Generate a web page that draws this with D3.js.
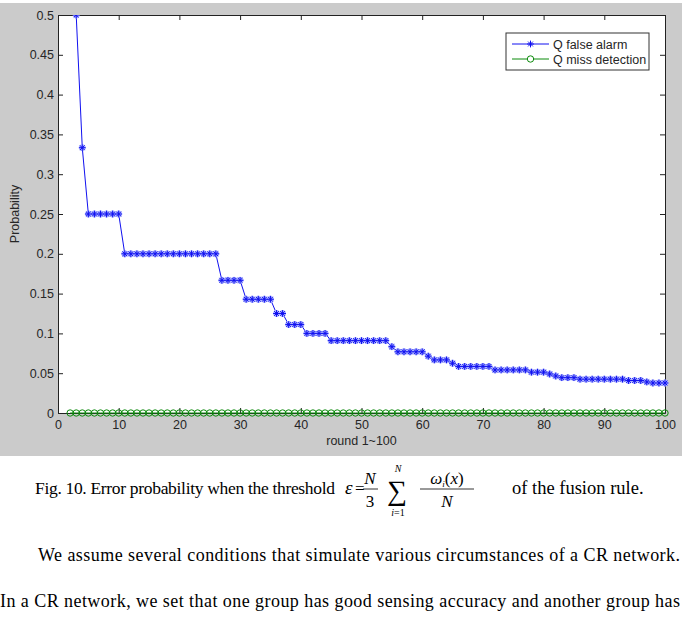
<!DOCTYPE html>
<html>
<head>
<meta charset="utf-8">
<script src="https://cdn.jsdelivr.net/npm/d3@7/dist/d3.min.js"></script>
<style>
  body { margin: 0; background: #fff; }
  svg { display: block; }
</style>
</head>
<body>
<svg id="chart" width="682" height="629"></svg>
<script>
// rounds 2..100 (round 1 has no value)
const rounds = d3.range(2, 101);

// Q false alarm, one value per round 2..100
const falseAlarm = [
  1, 0.5, 0.3333,
  0.25, 0.25, 0.25, 0.25, 0.25, 0.25,
  0.2, 0.2, 0.2, 0.2, 0.2, 0.2, 0.2, 0.2, 0.2, 0.2, 0.2, 0.2, 0.2, 0.2, 0.2, 0.2,
  0.1667, 0.1667, 0.1667, 0.1667,
  0.1429, 0.1429, 0.1429, 0.1429, 0.1429,
  0.125, 0.125,
  0.1111, 0.1111, 0.1111,
  0.1, 0.1, 0.1, 0.1,
  0.0909, 0.0909, 0.0909, 0.0909, 0.0909, 0.0909, 0.0909, 0.0909, 0.0909, 0.0909,
  0.0833,
  0.0769, 0.0769, 0.0769, 0.0769, 0.0769,
  0.0714,
  0.0667, 0.0667, 0.0667,
  0.0625,
  0.0585, 0.0585, 0.0585, 0.0585, 0.0585, 0.0585,
  0.0541, 0.0541, 0.0541, 0.0541, 0.0541, 0.0541,
  0.0513, 0.0513, 0.0513,
  0.049,
  0.0465,
  0.0444, 0.0444, 0.0444,
  0.0425, 0.0425, 0.0425, 0.0425, 0.0425, 0.0425, 0.0425, 0.0425,
  0.0408, 0.0408, 0.0408,
  0.039,
  0.0377, 0.0377, 0.0377
];

// Q miss detection, one value per round 2..100
const missDetection = [
  0, 0, 0, 0, 0, 0, 0, 0, 0, 0, 0, 0, 0, 0, 0, 0, 0, 0, 0, 0,
  0, 0, 0, 0, 0, 0, 0, 0, 0, 0, 0, 0, 0, 0, 0, 0, 0, 0, 0, 0,
  0, 0, 0, 0, 0, 0, 0, 0, 0, 0, 0, 0, 0, 0, 0, 0, 0, 0, 0, 0,
  0, 0, 0, 0, 0, 0, 0, 0, 0, 0, 0, 0, 0, 0, 0, 0, 0, 0, 0, 0,
  0, 0, 0, 0, 0, 0, 0, 0, 0, 0, 0, 0, 0, 0, 0, 0, 0, 0, 0
];

const xTicks = [0, 10, 20, 30, 40, 50, 60, 70, 80, 90, 100];
const yTicks = [0, 0.05, 0.1, 0.15, 0.2, 0.25, 0.3, 0.35, 0.4, 0.45, 0.5];
const legendNames = ['Q false alarm', 'Q miss detection'];

const svg = d3.select('#chart');
const sans = 'Liberation Sans, Arial, sans-serif';
const serif = 'Liberation Serif, Times New Roman, serif';

const plotL = 58, plotR = 665, plotT = 15, plotB = 413;

// figure background
svg.append('rect')
  .attr('x', 0).attr('y', 3).attr('width', 682).attr('height', 453)
  .attr('fill', '#cbcbcb');

svg.append('rect')
  .attr('x', plotL).attr('y', plotT)
  .attr('width', plotR - plotL).attr('height', plotB - plotT)
  .attr('fill', '#fff');

const x = d3.scaleLinear().domain([0, 100]).range([plotL, plotR]);
const y = d3.scaleLinear().domain([0, 0.5]).range([plotB, plotT]);

const defs = svg.append('defs');
defs.append('clipPath').attr('id', 'plot')
  .append('rect')
  .attr('x', plotL - 4).attr('y', plotT)
  .attr('width', plotR - plotL + 8).attr('height', plotB - plotT + 4);
defs.append('clipPath').attr('id', 'faclip')
  .append('rect')
  .attr('x', plotL).attr('y', plotT)
  .attr('width', plotR - plotL + 4).attr('height', plotB - plotT);

// axes (MATLAB style: ticks inside, box)
const axisStyle = g => {
  g.select('.domain').attr('stroke', '#222');
  g.selectAll('.tick line').attr('stroke', '#222');
  g.selectAll('.tick text').attr('fill', '#262626')
    .style('font-family', sans).style('font-size', '12.5px');
};

svg.append('g')
  .attr('transform', `translate(0,${plotB})`)
  .call(d3.axisBottom(x).tickValues(xTicks).tickSizeInner(-5).tickSizeOuter(0).tickPadding(7).tickFormat(d3.format('d')))
  .call(axisStyle);

svg.append('g')
  .attr('transform', `translate(0,${plotT})`)
  .call(d3.axisTop(x).tickValues(xTicks).tickSizeInner(-5).tickSizeOuter(0).tickFormat(''))
  .call(axisStyle);

svg.append('g')
  .attr('transform', `translate(${plotL},0)`)
  .call(d3.axisLeft(y).tickValues(yTicks).tickSizeInner(-5).tickSizeOuter(0).tickPadding(4).tickFormat(d => String(+d.toFixed(2))))
  .call(axisStyle);

svg.append('g')
  .attr('transform', `translate(${plotR},0)`)
  .call(d3.axisRight(y).tickValues(yTicks).tickSizeInner(-5).tickSizeOuter(0).tickFormat(''))
  .call(axisStyle);

// axis labels
svg.append('text')
  .attr('x', (plotL + plotR) / 2).attr('y', 445)
  .attr('text-anchor', 'middle')
  .style('font-family', sans).style('font-size', '12.5px').attr('fill', '#262626')
  .text('round 1~100');

svg.append('text')
  .attr('transform', `translate(19,${(plotT + plotB) / 2}) rotate(-90)`)
  .attr('text-anchor', 'middle')
  .style('font-family', sans).style('font-size', '12.5px').attr('fill', '#262626')
  .text('Probability');

const blue = '#1010f0', green = '#0b8a0b';
const star = 'M-3.4,0L3.4,0M0,-3.4L0,3.4M-2.4,-2.4L2.4,2.4M-2.4,2.4L2.4,-2.4';

const plot = svg.append('g').attr('clip-path', 'url(#plot)');

const line = d3.line().x((d, i) => x(rounds[i])).y(d => y(d));

plot.append('path').datum(missDetection)
  .attr('fill', 'none').attr('stroke', green).attr('stroke-width', 1)
  .attr('d', line);
plot.selectAll('.md').data(missDetection).enter().append('circle')
  .attr('cx', (d, i) => x(rounds[i])).attr('cy', d => y(d)).attr('r', 3.2)
  .attr('fill', 'none').attr('stroke', green).attr('stroke-width', 1);

const faGroup = svg.append('g').attr('clip-path', 'url(#faclip)');

faGroup.append('path').datum(falseAlarm)
  .attr('fill', 'none').attr('stroke', blue).attr('stroke-width', 1)
  .attr('d', line);
faGroup.selectAll('.fa-halo').data(falseAlarm).enter().append('path')
  .attr('transform', (d, i) => `translate(${x(rounds[i])},${y(d)})`)
  .attr('d', star).attr('stroke', '#aab2ff').attr('stroke-width', 2.4).attr('fill', 'none');
faGroup.selectAll('.fa').data(falseAlarm).enter().append('path')
  .attr('transform', (d, i) => `translate(${x(rounds[i])},${y(d)})`)
  .attr('d', star).attr('stroke', blue).attr('stroke-width', 1).attr('fill', 'none');

// legend
const lg = svg.append('g');
lg.append('rect')
  .attr('x', 506).attr('y', 33).attr('width', 143).attr('height', 37)
  .attr('fill', '#fff').attr('stroke', '#333').attr('stroke-width', 1);
legendNames.forEach((name, i) => {
  const ly = 44 + i * 15;
  const c = i === 0 ? blue : green;
  lg.append('line').attr('x1', 512).attr('x2', 549).attr('y1', ly).attr('y2', ly)
    .attr('stroke', c).attr('stroke-width', 1);
  if (i === 0) {
    lg.append('path').attr('transform', `translate(530.5,${ly})`)
      .attr('d', star).attr('stroke', c).attr('stroke-width', 1).attr('fill', 'none');
  } else {
    lg.append('circle').attr('cx', 530.5).attr('cy', ly).attr('r', 3.2)
      .attr('fill', '#fff').attr('stroke', c).attr('stroke-width', 1);
  }
  lg.append('text').attr('x', 553).attr('y', ly + 4.5)
    .style('font-family', sans).style('font-size', '12.5px').attr('fill', '#262626')
    .text(name);
});

// caption
const cap = svg.append('g').style('font-family', serif).attr('fill', '#000');
cap.append('text').attr('x', 35).attr('y', 494).style('font-size', '17.5px')
  .attr('textLength', 300).attr('lengthAdjust', 'spacing')
  .text('Fig. 10. Error probability when the threshold');
cap.append('text').attr('x', 345).attr('y', 494).style('font-size', '19px').style('font-style', 'italic')
  .text('ε');
cap.append('text').attr('x', 355).attr('y', 494).style('font-size', '17px').text('=');
cap.append('text').attr('x', 370).attr('y', 484).attr('text-anchor', 'middle')
  .style('font-size', '17px').style('font-style', 'italic').text('N');
cap.append('line').attr('x1', 363).attr('x2', 378).attr('y1', 489).attr('y2', 489).attr('stroke', '#000').attr('stroke-width', 0.8);
cap.append('text').attr('x', 370).attr('y', 507).attr('text-anchor', 'middle')
  .style('font-size', '17px').text('3');
cap.append('text').attr('x', 397).attr('y', 500).attr('text-anchor', 'middle')
  .style('font-size', '28px').text('∑');
cap.append('text').attr('x', 398).attr('y', 472).attr('text-anchor', 'middle')
  .style('font-size', '10px').style('font-style', 'italic').text('N');
cap.append('text').attr('x', 398).attr('y', 516).attr('text-anchor', 'middle')
  .style('font-size', '10px').html('<tspan font-style="italic">i</tspan>=1');
cap.append('text').attr('x', 447).attr('y', 484).attr('text-anchor', 'middle').style('font-size', '17px')
  .html('<tspan font-style="italic">ω</tspan><tspan font-style="italic" font-size="9" dy="3">i</tspan><tspan dy="-3">(</tspan><tspan font-style="italic">x</tspan>)');
cap.append('line').attr('x1', 420).attr('x2', 474).attr('y1', 489).attr('y2', 489).attr('stroke', '#000').attr('stroke-width', 0.8);
cap.append('text').attr('x', 447).attr('y', 507).attr('text-anchor', 'middle')
  .style('font-size', '17px').style('font-style', 'italic').text('N');
cap.append('text').attr('x', 512).attr('y', 494).style('font-size', '18.5px')
  .text('of the fusion rule.');

cap.append('text').attr('x', 38).attr('y', 561).style('font-size', '18px')
  .attr('textLength', 642).attr('lengthAdjust', 'spacing')
  .text('We assume several conditions that simulate various circumstances of a CR network.');
cap.append('text').attr('x', 0).attr('y', 607).style('font-size', '18px')
  .attr('textLength', 680).attr('lengthAdjust', 'spacing')
  .text('In a CR network, we set that one group has good sensing accuracy and another group has');
</script>
</body>
</html>
